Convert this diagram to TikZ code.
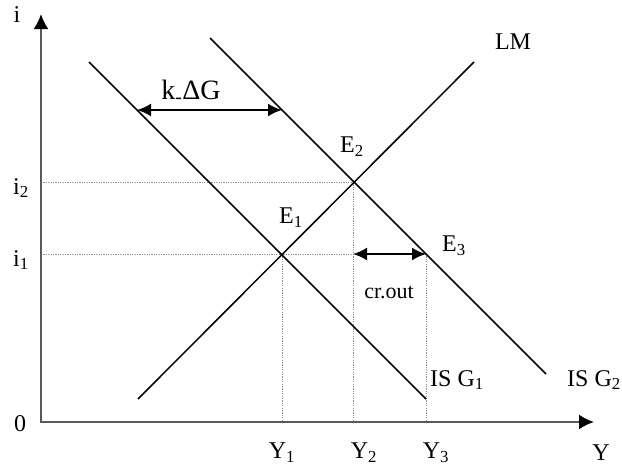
\documentclass[tikz,border=0pt]{standalone}
\usepackage{fontspec}
\setmainfont{Liberation Serif}
\usetikzlibrary{arrows.meta}

\begin{document}
\begin{tikzpicture}[x=1pt, y=-1pt,
    axis/.style={line width=2.2pt, draw=black!65,
                 {Latex[length=15pt,width=15pt,color=black]}-{Latex[length=15pt,width=15pt,color=black]}},
    curve/.style={line width=1.5pt},
    guide/.style={line width=1pt, draw=black!45, dash pattern=on 1.2pt off 1.2pt},
    darr/.style={line width=2pt, {Latex[length=14pt,width=13pt]}-{Latex[length=14pt,width=13pt]}},
    lbl/.style={font=\fontsize{24}{28}\selectfont, inner sep=0pt}
]
\useasboundingbox (0,0) rectangle (622,469);

% points of the diagram
\coordinate (O) at (41,422);
\coordinate (itop) at (41,14);
\coordinate (Yend) at (594,422);
\coordinate (E1) at (282,254);
\coordinate (E2) at (353,182);
\coordinate (E3) at (426,254);
\coordinate (LMlo) at (138,399);
\coordinate (LMhi) at (474,62);
\coordinate (ISone) at (89,62);
\coordinate (ISoneEnd) at (426,399);
\coordinate (IStwo) at (210,38);
\coordinate (IStwoEnd) at (546,374);
\coordinate (itwo) at (41,182);
\coordinate (ione) at (41,254);
\coordinate (Yone) at (282,422);
\coordinate (Ytwo) at (353,422);
\coordinate (Ythree) at (426,422);
\coordinate (crL) at (353,254);
\coordinate (kL) at (137,110);
\coordinate (kR) at (282,110);

% dotted guides
\draw[guide] (itwo) -- (E2);
\draw[guide] (ione) -- (E3);
\draw[guide] (E1) -- (Yone);
\draw[guide] (E2) -- (Ytwo);
\draw[guide] (E3) -- (Ythree);

% axes
\draw[axis] (itop) -- (O) -- (Yend);

% curves
\draw[curve] (LMlo) -- (LMhi);
\draw[curve] (ISone) -- (ISoneEnd);
\draw[curve] (IStwo) -- (IStwoEnd);

% shifts
\draw[darr] (kL) -- (kR);
\draw[darr] (crL) -- (E3);

% labels
\node[lbl] (ilab) at (17,15) {i};
\node[lbl] (i2lab) at (21,188) {i\textsubscript{2}};
\node[lbl] (i1lab) at (21,260) {i\textsubscript{1}};
\node[lbl] (zero) at (20,424) {0};
\node[lbl] (Y1lab) at (282,453) {Y\textsubscript{1}};
\node[lbl] (Y2lab) at (364,453) {Y\textsubscript{2}};
\node[lbl] (Y3lab) at (436,453) {Y\textsubscript{3}};
\node[lbl] (Ylab) at (601,453) {Y};
\node[lbl] (E1lab) at (291,218) {E\textsubscript{1}};
\node[lbl] (E2lab) at (352,147) {E\textsubscript{2}};
\node[lbl] (E3lab) at (454,246) {E\textsubscript{3}};
\node[lbl] (LMlab) at (513,42) {LM};
\node[lbl] (IS1lab) at (457,380) {IS G\textsubscript{1}};
\node[lbl] (IS2lab) at (594,380) {IS G\textsubscript{2}};
\node[lbl, font=\fontsize{22}{26}\selectfont] (crlab) at (389,292) {cr.out};
\node[lbl, font=\fontsize{28}{32}\selectfont] (klab) at (191,92) {k\textsubscript{-}ΔG};
\end{tikzpicture}
\end{document}
